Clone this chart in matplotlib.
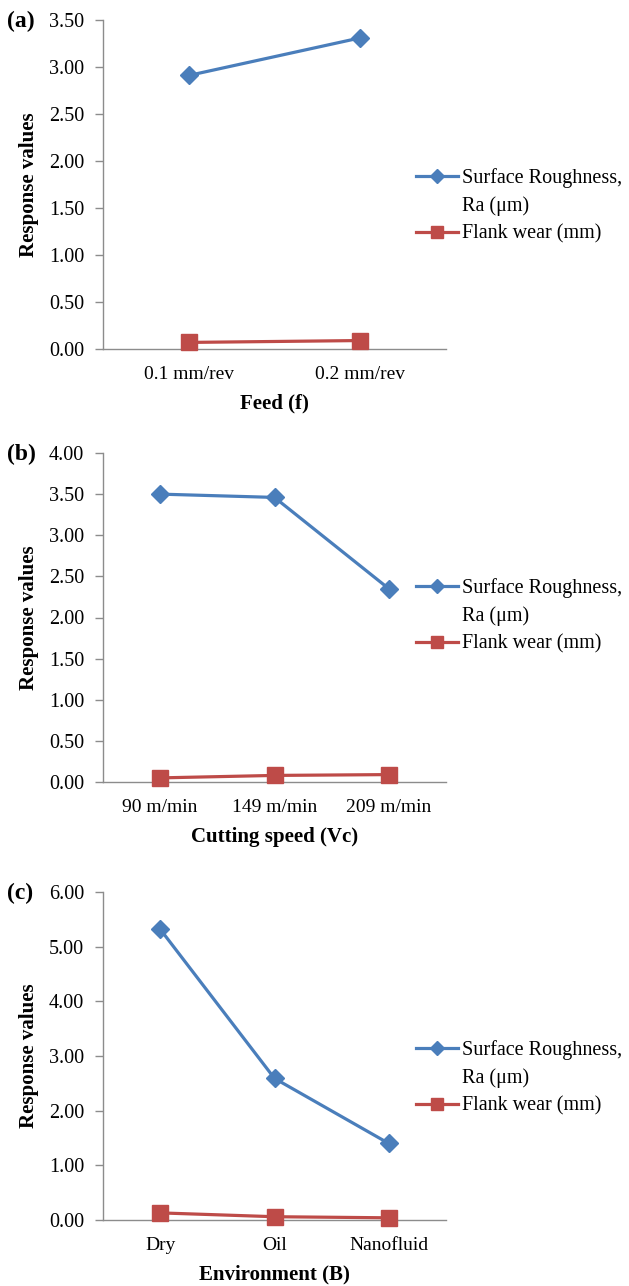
import matplotlib
matplotlib.use("Agg")
import matplotlib.pyplot as plt
from matplotlib.lines import Line2D

plt.rcParams['font.family'] = ['Liberation Serif', 'DejaVu Serif']

feed_cats = ["0.1 mm/rev", "0.2 mm/rev"]
feed_ra = [2.91, 3.31]
feed_vb = [0.07, 0.09]

speed_cats = ["90 m/min", "149 m/min", "209 m/min"]
speed_ra = [3.50, 3.46, 2.35]
speed_vb = [0.05, 0.08, 0.09]

env_cats = ["Dry", "Oil", "Nanofluid"]
env_ra = [5.32, 2.59, 1.40]
env_vb = [0.13, 0.06, 0.04]

panels = [
    ("(a)", feed_cats, feed_ra, feed_vb, "Feed (f)", [0, 0.5, 1.0, 1.5, 2.0, 2.5, 3.0, 3.5], 3.5),
    ("(b)", speed_cats, speed_ra, speed_vb, "Cutting speed (Vc)", [0, 0.5, 1.0, 1.5, 2.0, 2.5, 3.0, 3.5, 4.0], 4.0),
    ("(c)", env_cats, env_ra, env_vb, "Environment (B)", [0, 1, 2, 3, 4, 5, 6], 6.0),
]

W, H = 629, 1286
fig = plt.figure(figsize=(W / 100, H / 100), dpi=100)

# (top px, bottom px, legend blue y px)
boxes = [(20, 349, 178), (453, 782, 588), (892, 1220, 1050)]
left_px, right_px = 103, 446

blue = "#4A7EBB"
red = "#BE4B48"
grey = "#8C8C8C"
fs = 14.5

for (lab, cats, ra, vb, xlabel, yt, ymax), (top, bot, legy) in zip(panels, boxes):
    ax = fig.add_axes([left_px / W, 1 - bot / H, (right_px - left_px) / W, (bot - top) / H])
    x = list(range(len(cats)))
    l1, = ax.plot(x, ra, color=blue, lw=2.3, marker="D", ms=9.5, mfc=blue, mec=blue, clip_on=False, zorder=3)
    l2, = ax.plot(x, vb, color=red, lw=2.3, marker="s", ms=11, mfc=red, mec=red, clip_on=False, zorder=3)
    ax.set_xlim(-0.5, len(cats) - 0.5)
    ax.set_ylim(0, ymax)
    ax.set_yticks(yt)
    ax.set_yticklabels([f"{v:.2f}" for v in yt], fontsize=fs)
    ax.set_xticks(x)
    ax.set_xticklabels(cats, fontsize=14)
    ax.tick_params(axis="x", length=0, pad=12)
    ax.tick_params(axis="y", length=6, width=1, color=grey, pad=7.5, direction="out")
    for s in ["top", "right"]:
        ax.spines[s].set_visible(False)
    for s in ["left", "bottom"]:
        ax.spines[s].set_color(grey)
        ax.spines[s].set_linewidth(1)
    ax.set_xlabel(xlabel, fontsize=15, fontweight="bold", labelpad=8)
    ax.set_ylabel("Response values", fontsize=15, fontweight="bold", labelpad=7)
    fig.text(7 / W, 1 - (top + 1) / H, lab, fontsize=17, fontweight="bold", va="center", ha="left")

    blank = Line2D([], [], color="none")
    leg = ax.legend([l1, blank, l2], ["Surface Roughness,", "Ra (\u03bcm)", "Flank wear (mm)"],
                    loc="upper left", bbox_to_anchor=(416 / W, 1 - (legy - 10) / H),
                    bbox_transform=fig.transFigure, frameon=False, fontsize=fs,
                    handlelength=2.1, handletextpad=0.2, labelspacing=0.42, borderpad=0,
                    borderaxespad=0, markerscale=0.75)

fig.savefig("out.png", dpi=100)
